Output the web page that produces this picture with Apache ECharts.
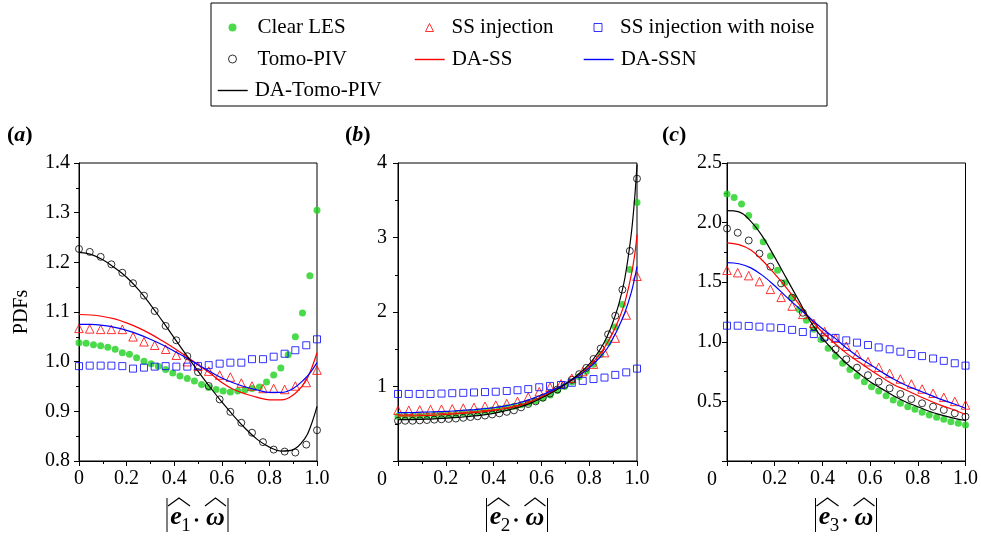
<!DOCTYPE html>
<html>
<head>
<meta charset="utf-8">
<script src="https://cdn.jsdelivr.net/npm/echarts@6/dist/echarts.min.js"></script>
<style>
  html, body { margin: 0; padding: 0; background: #fff; }
  #chart { width: 981px; height: 537px; }
</style>
</head>
<body>
<div id="chart"></div>
<script>
// bin centres (23 coarse bins, 34 fine bins)
const binsCoarse = [0, 0.045, 0.091, 0.136, 0.182, 0.227, 0.273, 0.318, 0.364, 0.409, 0.455, 0.5,
  0.545, 0.591, 0.636, 0.682, 0.727, 0.773, 0.818, 0.864, 0.909, 0.955, 1];
const binsFine = [0, 0.03, 0.061, 0.091, 0.121, 0.152, 0.182, 0.212, 0.242, 0.273, 0.303, 0.333,
  0.364, 0.394, 0.424, 0.455, 0.485, 0.515, 0.545, 0.576, 0.606, 0.636, 0.667, 0.697, 0.727,
  0.758, 0.788, 0.818, 0.848, 0.879, 0.909, 0.939, 0.97, 1];
const lineXa = [0, 0.05, 0.1, 0.15, 0.2, 0.25, 0.3, 0.35, 0.4, 0.45, 0.5, 0.55, 0.6, 0.65, 0.7,
  0.75, 0.8, 0.85, 0.9, 0.95, 0.975, 1];
const lineXb = [0, 0.05, 0.1, 0.15, 0.2, 0.25, 0.3, 0.35, 0.4, 0.45, 0.5, 0.55, 0.6, 0.65, 0.7,
  0.75, 0.8, 0.85, 0.875, 0.9, 0.925, 0.95, 0.975, 0.99, 1];
const lineXc = [0, 0.05, 0.1, 0.15, 0.2, 0.25, 0.3, 0.35, 0.4, 0.45, 0.5, 0.55, 0.6, 0.65, 0.7,
  0.75, 0.8, 0.85, 0.9, 0.95, 1];

// (a) e1
const aClearLES = [1.038, 1.037, 1.034, 1.032, 1.029, 1.025, 1.018, 1.015, 1.008, 1.001, 0.996, 0.991,
  0.984, 0.977, 0.971, 0.966, 0.961, 0.954, 0.948, 0.944, 0.941, 0.939, 0.941, 0.943, 0.946, 0.949,
  0.959, 0.973, 0.987, 1.014, 1.050, 1.098, 1.173, 1.305];
const aTomoPIV = [1.227, 1.221, 1.211, 1.196, 1.179, 1.158, 1.133, 1.102, 1.072, 1.043, 1.011, 0.979,
  0.951, 0.924, 0.899, 0.877, 0.857, 0.838, 0.823, 0.819, 0.817, 0.833, 0.862];
const aSS = [1.067, 1.066, 1.065, 1.065, 1.065, 1.050, 1.040, 1.033, 1.025, 1.013, 1.000, 0.991,
  0.981, 0.973, 0.969, 0.957, 0.951, 0.946, 0.946, 0.944, 0.951, 0.958, 0.983];
const aSSN = [0.991, 0.992, 0.992, 0.992, 0.991, 0.986, 0.988, 0.990, 0.991, 0.990, 0.990, 0.991,
  0.993, 0.996, 0.998, 0.998, 1.005, 1.005, 1.010, 1.016, 1.023, 1.033, 1.045];
const aDATomo = [1.220, 1.216, 1.205, 1.189, 1.170, 1.145, 1.115, 1.082, 1.048, 1.014, 0.981, 0.949,
  0.919, 0.891, 0.865, 0.843, 0.828, 0.820, 0.823, 0.846, 0.872, 0.910];
const aDASS = [1.095, 1.094, 1.091, 1.086, 1.078, 1.068, 1.056, 1.042, 1.027, 1.011, 0.994, 0.977,
  0.958, 0.944, 0.935, 0.928, 0.923, 0.923, 0.933, 0.959, 0.984, 1.018];
const aDASSN = [1.075, 1.075, 1.073, 1.069, 1.063, 1.055, 1.045, 1.034, 1.021, 1.008, 0.994, 0.980,
  0.967, 0.957, 0.949, 0.943, 0.938, 0.938, 0.946, 0.966, 0.980, 0.998];

// (b) e2
const bClearLES = [0.60, 0.60, 0.60, 0.605, 0.61, 0.615, 0.62, 0.625, 0.63, 0.64, 0.65, 0.66, 0.67,
  0.685, 0.70, 0.715, 0.735, 0.755, 0.78, 0.81, 0.845, 0.885, 0.945, 1.0, 1.06, 1.13, 1.20, 1.30,
  1.43, 1.59, 1.80, 2.10, 2.57, 3.47];
const bTomoPIV = [0.54, 0.54, 0.54, 0.545, 0.55, 0.555, 0.56, 0.565, 0.57, 0.58, 0.59, 0.60, 0.61,
  0.625, 0.64, 0.66, 0.68, 0.72, 0.765, 0.80, 0.85, 0.905, 0.96, 1.02, 1.09, 1.165, 1.25, 1.37,
  1.51, 1.70, 1.95, 2.30, 2.82, 3.79];
const bSS = [0.68, 0.68, 0.685, 0.69, 0.695, 0.70, 0.71, 0.72, 0.735, 0.75, 0.77, 0.80, 0.86, 0.93,
  0.99, 1.035, 1.11, 1.20, 1.30, 1.455, 1.65, 1.96, 2.48];
const bSSN = [0.90, 0.90, 0.90, 0.90, 0.905, 0.91, 0.915, 0.92, 0.925, 0.93, 0.94, 0.95, 0.965, 0.99,
  1.008, 1.02, 1.05, 1.075, 1.10, 1.12, 1.156, 1.19, 1.24];
const bDATomo = [0.555, 0.555, 0.56, 0.565, 0.575, 0.585, 0.60, 0.615, 0.64, 0.675, 0.715, 0.77, 0.845,
  0.93, 1.03, 1.15, 1.30, 1.52, 1.67, 1.87, 2.12, 2.47, 3.02, 3.52, 3.98];
const bDASS = [0.605, 0.605, 0.61, 0.615, 0.625, 0.635, 0.645, 0.66, 0.68, 0.705, 0.74, 0.79, 0.86,
  0.94, 1.03, 1.13, 1.27, 1.46, 1.58, 1.73, 1.91, 2.14, 2.48, 2.76, 3.04];
const bDASSN = [0.65, 0.65, 0.655, 0.66, 0.665, 0.675, 0.685, 0.70, 0.715, 0.74, 0.775, 0.825, 0.885,
  0.955, 1.04, 1.13, 1.25, 1.41, 1.51, 1.65, 1.81, 2.0, 2.25, 2.45, 2.61];

// (c) e3
const cClearLES = [2.24, 2.21, 2.156, 2.06, 1.966, 1.84, 1.72, 1.60, 1.496, 1.373, 1.27, 1.18, 1.105,
  1.02, 0.945, 0.878, 0.82, 0.767, 0.713, 0.665, 0.623, 0.587, 0.548, 0.512, 0.484, 0.456, 0.434,
  0.408, 0.386, 0.366, 0.35, 0.33, 0.316, 0.302];
const cTomoPIV = [1.95, 1.915, 1.85, 1.74, 1.63, 1.49, 1.37, 1.244, 1.127, 1.03, 0.937, 0.853, 0.783,
  0.72, 0.665, 0.61, 0.562, 0.52, 0.484, 0.456, 0.428, 0.40, 0.372];
const cSS = [1.60, 1.58, 1.555, 1.505, 1.44, 1.373, 1.30, 1.23, 1.155, 1.085, 1.03, 0.963, 0.895,
  0.833, 0.786, 0.735, 0.688, 0.646, 0.604, 0.568, 0.534, 0.50, 0.47];
const cSSN = [1.135, 1.135, 1.133, 1.127, 1.12, 1.115, 1.10, 1.082, 1.065, 1.043, 1.033, 1.012, 0.993,
  0.973, 0.953, 0.937, 0.917, 0.898, 0.88, 0.86, 0.84, 0.82, 0.80];
const cDATomo = [2.10, 2.09, 2.01, 1.88, 1.71, 1.53, 1.35, 1.17, 1.03, 0.92, 0.82, 0.74, 0.665, 0.605,
  0.545, 0.495, 0.455, 0.415, 0.385, 0.36, 0.34];
const cDASS = [1.83, 1.815, 1.77, 1.68, 1.57, 1.45, 1.32, 1.19, 1.08, 0.99, 0.905, 0.835, 0.765, 0.70,
  0.64, 0.595, 0.55, 0.505, 0.465, 0.43, 0.39];
const cDASSN = [1.665, 1.655, 1.62, 1.555, 1.47, 1.375, 1.285, 1.195, 1.11, 1.035, 0.95, 0.875, 0.81,
  0.745, 0.685, 0.635, 0.595, 0.555, 0.515, 0.48, 0.442];

const FONT = '"Liberation Serif", "Times New Roman", serif';
const GREEN = '#1ed11e';
const RED = '#ff0000';
const BLUE = '#0000ff';
const CLEAR = 'rgba(255,255,255,0)';

const pairs = (xs, ys) => xs.map((x, i) => [x, ys[i]]);

const grids = [
  { left: 79, top: 163, width: 238, height: 298 },
  { left: 398, top: 163, width: 239, height: 298 },
  { left: 727, top: 163, width: 239, height: 298 }
];

const panels = [
  { les: aClearLES, tomo: aTomoPIV, ss: aSS, ssn: aSSN, lx: lineXa, daT: aDATomo, daS: aDASS, daN: aDASSN },
  { les: bClearLES, tomo: bTomoPIV, ss: bSS, ssn: bSSN, lx: lineXb, daT: bDATomo, daS: bDASS, daN: bDASSN },
  { les: cClearLES, tomo: cTomoPIV, ss: cSS, ssn: cSSN, lx: lineXc, daT: cDATomo, daS: cDASS, daN: cDASSN }
];

function xAxisFor(gi, hideZero) {
  return {
    type: 'value', gridIndex: gi, min: 0, max: 1, interval: 0.2,
    axisLine: { show: true, onZero: false, lineStyle: { color: '#000', width: 1 } },
    axisTick: { show: true, inside: false, length: 5, lineStyle: { color: '#000' } },
    minorTick: { show: true, splitNumber: 2, length: 3, lineStyle: { color: '#000' } },
    splitLine: { show: false },
    axisLabel: {
      margin: 8, color: '#000', fontFamily: FONT, fontSize: 20,
      formatter: v => v === 0 ? (hideZero ? '' : '0') : v.toFixed(1)
    }
  };
}

function yAxisFor(gi, min, max, interval, fmt, margin) {
  return {
    type: 'value', gridIndex: gi, min: min, max: max, interval: interval,
    axisLine: { show: true, onZero: false, lineStyle: { color: '#000', width: 1 } },
    axisTick: { show: true, inside: false, length: 5, lineStyle: { color: '#000' } },
    minorTick: { show: true, splitNumber: 2, length: 3, lineStyle: { color: '#000' } },
    splitLine: { show: false },
    axisLabel: { margin: margin, color: '#000', fontFamily: FONT, fontSize: 20, formatter: fmt }
  };
}

const series = [];
panels.forEach((p, gi) => {
  const ax = { xAxisIndex: gi, yAxisIndex: gi };
  series.push({ ...ax, type: 'scatter', name: 'Clear LES', symbol: 'circle', symbolSize: 7,
    itemStyle: { color: GREEN }, data: pairs(binsFine, p.les) });
  series.push({ ...ax, type: 'scatter', name: 'Tomo-PIV', symbol: 'circle', symbolSize: 7,
    itemStyle: { color: CLEAR, borderColor: '#000', borderWidth: 1 },
    data: pairs(gi === 1 ? binsFine : binsCoarse, p.tomo) });
  series.push({ ...ax, type: 'scatter', name: 'SS injection', symbol: 'triangle', symbolSize: 8.5,
    itemStyle: { color: CLEAR, borderColor: RED, borderWidth: 1 }, data: pairs(binsCoarse, p.ss) });
  series.push({ ...ax, type: 'scatter', name: 'SS injection with noise', symbol: 'rect', symbolSize: 7,
    itemStyle: { color: CLEAR, borderColor: BLUE, borderWidth: 1 }, data: pairs(binsCoarse, p.ssn) });
  series.push({ ...ax, type: 'line', name: 'DA-SS', symbol: 'none', smooth: 0.4,
    lineStyle: { color: RED, width: 1.2 }, itemStyle: { color: RED }, data: pairs(p.lx, p.daS) });
  series.push({ ...ax, type: 'line', name: 'DA-SSN', symbol: 'none', smooth: 0.4,
    lineStyle: { color: BLUE, width: 1.2 }, itemStyle: { color: BLUE }, data: pairs(p.lx, p.daN) });
  series.push({ ...ax, type: 'line', name: 'DA-Tomo-PIV', symbol: 'none', smooth: 0.4,
    lineStyle: { color: '#000', width: 1.2 }, itemStyle: { color: '#000' }, data: pairs(p.lx, p.daT) });
});

// marker legends (small square icons) and line legends (wide icons), laid out in 3 columns
function markerLegend(left, top, textPad, names) {
  return {
    orient: 'vertical', left: left, top: top, padding: 0, itemGap: 10.5,
    itemWidth: 8, itemHeight: 8, selectedMode: false,
    textStyle: { fontFamily: FONT, fontSize: 21, color: '#000', padding: [0, 0, 0, textPad] },
    itemStyle: { borderWidth: 1 },
    data: names
  };
}
function lineLegend(left, top, names) {
  return {
    orient: 'vertical', left: left, top: top, padding: 0, itemGap: 10.5,
    itemWidth: 30, itemHeight: 8, selectedMode: false,
    textStyle: { fontFamily: FONT, fontSize: 21, color: '#000', padding: [0, 0, 0, 2] },
    itemStyle: { opacity: 0 },
    lineStyle: { width: 1.4 },
    data: names
  };
}

function axisTitle(cx, sub) {
  const txt = (x, y, s, font) => ({
    type: 'text', x: x, y: y,
    style: { text: s, font: font, fill: '#000', align: 'center', verticalAlign: 'middle' }
  });
  return {
    type: 'group', x: cx, y: 0, silent: true,
    children: [
      { type: 'line', shape: { x1: -31, y1: 498, x2: -31, y2: 532 }, style: { stroke: '#000', lineWidth: 1 } },
      { type: 'line', shape: { x1: 30, y1: 498, x2: 30, y2: 532 }, style: { stroke: '#000', lineWidth: 1 } },
      txt(-22, 517, 'e', 'bold italic 26px ' + FONT),
      txt(-12, 526, sub, '19px ' + FONT),
      { type: 'circle', shape: { cx: -1.5, cy: 520, r: 1.8 }, style: { fill: '#000' } },
      txt(17.5, 518, 'ω', 'bold italic 26px ' + FONT),
      { type: 'polyline', shape: { points: [[-30, 506], [-19, 498], [-8, 506]] },
        style: { stroke: '#000', lineWidth: 1.2, fill: null } },
      { type: 'polyline', shape: { points: [[7, 506], [17.5, 498], [28, 506]] },
        style: { stroke: '#000', lineWidth: 1.2, fill: null } }
    ]
  };
}

function zeroLabel(x) {
  return { type: 'text', x: x, y: 480, silent: true,
    style: { text: '0', font: '20px ' + FONT, fill: '#000', align: 'center', verticalAlign: 'middle' } };
}

function panelTitle(letter, left) {
  return {
    text: '{p|(}{i|' + letter + '}{p|)}', left: left, top: 124, padding: 0,
    textStyle: {
      rich: {
        p: { fontFamily: FONT, fontSize: 22, color: '#000' },
        i: { fontFamily: FONT, fontSize: 22, fontStyle: 'italic', color: '#000' }
      }
    }
  };
}

const option = {
  backgroundColor: '#fff',
  animation: false,
  title: [panelTitle('a', 7), panelTitle('b', 345), panelTitle('c', 662)],
  legend: [
    markerLegend(228, 17, 16, ['Clear LES', 'Tomo-PIV']),
    lineLegend(217, 80, ['DA-Tomo-PIV']),
    markerLegend(425, 17, 13, ['SS injection']),
    lineLegend(414, 49, ['DA-SS']),
    markerLegend(593.5, 17, 13, ['SS injection with noise']),
    lineLegend(583, 49, ['DA-SSN'])
  ],
  grid: grids.map(g => ({ ...g, show: true, borderColor: '#000', borderWidth: 1,
    backgroundColor: 'transparent', containLabel: false })),
  xAxis: [xAxisFor(0, false), xAxisFor(1, true), xAxisFor(2, true)],
  yAxis: [
    Object.assign(yAxisFor(0, 0.8, 1.4, 0.1, v => v.toFixed(1), 9), {
      name: 'PDFs', nameLocation: 'middle', nameRotate: 90, nameGap: 47,
      nameTextStyle: { fontFamily: FONT, fontSize: 20, color: '#000' }
    }),
    yAxisFor(1, 0, 4, 1, v => v === 0 ? '' : String(v), 11),
    yAxisFor(2, 0, 2.5, 0.5, v => v === 0 ? '' : v.toFixed(1), 5)
  ],
  graphic: [
    { type: 'rect', shape: { x: 211, y: 3, width: 616, height: 103 },
      style: { fill: null, stroke: '#000', lineWidth: 1 }, silent: true },
    zeroLabel(382),
    zeroLabel(712),
    axisTitle(198, '1'),
    axisTitle(517.5, '2'),
    axisTitle(846.5, '3')
  ],
  series: series
};

const chart = echarts.init(document.getElementById('chart'));
chart.setOption(option);
</script>
</body>
</html>
